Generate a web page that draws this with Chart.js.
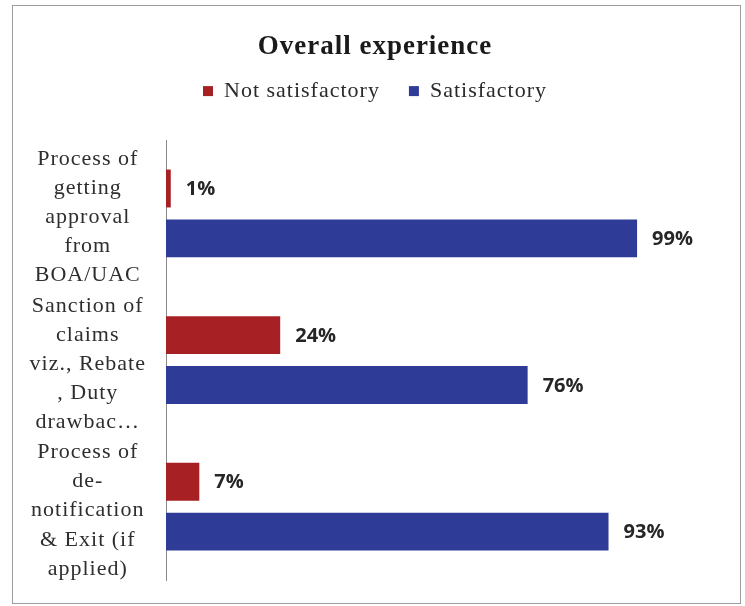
<!DOCTYPE html>
<html>
<head>
<meta charset="utf-8">
<script src="https://cdn.jsdelivr.net/npm/chart.js@4.4.1/dist/chart.umd.min.js"></script>
<style>
  html,body{margin:0;padding:0;background:#fff;}
  #frame{position:absolute;left:12px;top:5px;width:729px;height:599px;box-sizing:border-box;border:1px solid #9c9c9c;background:#fff;}
  #chart{display:block;}
</style>
</head>
<body>
<div id="frame"><canvas id="chart" width="727" height="597"></canvas></div>
<script>
// survey: overall experience, share of responses per process
const categories = [
  ["Process of","getting","approval","from","BOA/UAC"],
  ["Sanction of","claims","viz., Rebate",", Duty","drawbac…"],
  ["Process of","de-","notification","& Exit (if","applied)"]
];
const notSatisfactory = [1, 24, 7];
const satisfactory = [99, 76, 93];
const seriesNames = ["Not satisfactory", "Satisfactory"];
const axisMax = 120;

const SERIF = "'Liberation Serif','Times New Roman',serif";

// loose letter spacing for the serif text, plus extra room under the legend.
// the canvas state gets reset on resize, so set it again before layout and draw
const spacing = {
  id: "spacing",
  beforeInit(chart){
    const lg = chart.legend;
    if(lg){
      const fit = lg.fit;
      lg.fit = function(){ fit.call(this); this.height += 28; };
    }
  },
  beforeUpdate(chart){ chart.ctx.letterSpacing = "1px"; },
  beforeDraw(chart){ chart.ctx.letterSpacing = "1px"; }
};

// value labels to the right of every bar
const barValues = {
  id: "barValues",
  afterDatasetsDraw(chart){
    const ctx = chart.ctx;
    ctx.save();
    ctx.letterSpacing = "0px";
    ctx.font = "bold 20px 'Open Sans', sans-serif";
    ctx.fillStyle = "#262626";
    ctx.textAlign = "left";
    ctx.textBaseline = "middle";
    chart.data.datasets.forEach((ds, i) => {
      chart.getDatasetMeta(i).data.forEach((bar, j) => {
        ctx.fillText(ds.data[j] + "%", bar.x + 15, bar.y + 1);
      });
    });
    ctx.restore();
  }
};

new Chart(document.getElementById("chart"), {
  type: "bar",
  data: {
    labels: categories,
    datasets: [
      { label: seriesNames[0], data: notSatisfactory, backgroundColor: "#A72024",
        categoryPercentage: 0.68, barPercentage: 0.76 },
      { label: seriesNames[1], data: satisfactory, backgroundColor: "#2E3C97",
        categoryPercentage: 0.68, barPercentage: 0.76 }
    ]
  },
  options: {
    indexAxis: "y",
    responsive: false,
    animation: false,
    layout: { padding: { top: 0, right: 3, bottom: 23, left: 0 } },
    plugins: {
      title: {
        display: true,
        text: "Overall experience",
        color: "#1a1a1a",
        font: { family: SERIF, size: 27, weight: "bold", lineHeight: 0.3 },
        padding: { top: 37, bottom: 0 }
      },
      legend: {
        display: true,
        labels: {
          color: "#2a2a2a",
          font: { family: SERIF, size: 22 },
          boxWidth: 10, boxHeight: 10,
          padding: 29
        }
      },
      tooltip: { enabled: false }
    },
    scales: {
      x: { display: false, min: 0, max: axisMax },
      y: {
        grid: { display: false, drawTicks: false },
        border: { display: true, color: "#8a8a8a", width: 1 },
        afterFit(scale){
          scale.width = 153;
          scale.paddingTop = 0;
          scale.paddingBottom = 0;
        },
        ticks: {
          autoSkip: false,
          crossAlign: "center",
          padding: 20,
          labelOffset: 4,
          color: "#2e2e2e",
          font: { family: SERIF, size: 22, lineHeight: 1.32 }
        }
      }
    }
  },
  plugins: [spacing, barValues]
});
</script>
</body>
</html>
